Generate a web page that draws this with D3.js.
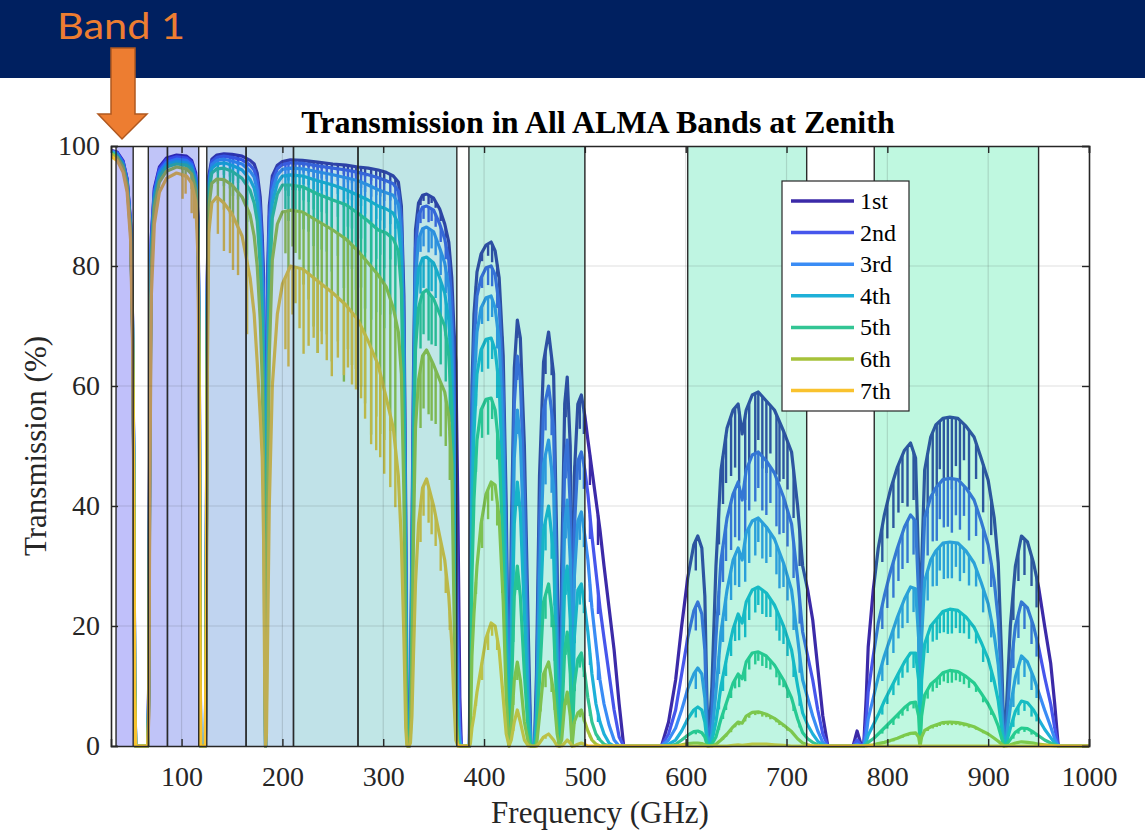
<!DOCTYPE html>
<html><head><meta charset="utf-8">
<script src="https://cdn.jsdelivr.net/npm/d3@7/dist/d3.min.js"></script>
<style>body{margin:0;background:#fff}svg{display:block}</style>
</head><body>
<svg id="chart" width="1145" height="830"></svg>
<script>
// ---------------- DATA ----------------
const freqGHz = [
  30, 36, 42, 46, 49.5, 51.3, 52.5, 53.5, 54.5,
  66.5, 67.5, 68.5, 70, 73, 78, 85, 95, 105, 110, 114, 116.3, 117.6, 118.4, 118.9,
  123.6, 124.5, 125.5, 127, 130, 135, 142, 150, 160, 168, 172, 175, 178, 180, 181.4, 182.5, 183.3,
  184.2, 185.5, 187, 190, 195, 200, 208, 220, 235, 250, 263, 275, 285, 295, 303, 310, 315, 318, 320.5, 322.3, 323.5, 324.5,
  325.8, 327, 328.5, 330, 332, 335, 339, 343, 350, 356, 361, 365, 368, 370, 372, 374, 376, 377.5,
  385.5, 386.5, 388, 390, 393, 397, 402, 407, 411, 415, 419, 422, 424.8, 427, 430, 433, 436, 440, 444, 446.5,
  450, 452, 455, 459, 464, 469, 472.5, 474.7, 477, 480, 482.5, 485.5, 487.3, 489.5, 493, 496.5, 500, 503, 507, 511, 515, 519, 524, 529, 534, 538.5,
  576, 583, 590, 596, 602, 608, 612, 616, 619, 621, 622.5,
  626, 630, 635, 641, 647, 652, 656, 660, 666, 672, 680, 688, 697, 705, 711, 716, 721, 726, 731, 736, 741,
  766, 770, 773.5, 776.5,
  779, 781, 786, 791, 797, 803, 810, 817, 823, 828, 831, 832.5, 834, 837, 843, 848, 855, 862, 870, 878, 886, 893, 900, 906, 910, 913.5, 915.7,
  918, 922, 927, 933, 939, 945, 950, 956, 962, 966, 969.5, 1000
];
const trans1st = [
  99.3, 99.0, 97.5, 94.5, 87, 72, 50, 12, 0,
  0, 12, 58, 85, 93, 96.5, 98, 98.5, 98.3, 97.6, 95.5, 88, 65, 20, 0,
  0, 30, 78, 95, 97.8, 98.5, 98.7, 98.6, 98.3, 97.6, 97, 95.5, 91.5, 85, 78, 45, 0,
  45, 80, 90, 95, 96.8, 97.4, 97.7, 97.6, 97.3, 97, 96.8, 96.5, 96.3, 96, 95.6, 95, 94, 90, 75, 40, 8, 0,
  0, 10, 35, 62, 86, 90.5, 91.8, 92, 91.3, 89.5, 87, 84, 78, 70, 64, 40, 8, 0,
  0, 35, 60, 72, 79, 82, 83.5, 84, 82.5, 78, 65, 40, 2, 35, 63, 71, 68, 50, 18, 0,
  0, 12, 45, 64, 69, 62, 30, 1, 30, 57, 61.5, 50, 8, 45, 57, 58.5, 55, 51, 46, 41, 36, 30, 23, 16, 7, 0,
  0, 4, 11, 20, 28, 33.5, 35, 33, 25, 8, 0,
  10, 30, 46, 53, 56, 57, 52, 56, 58.5, 59, 57.5, 56, 52.5, 49, 40, 30, 26, 21, 13, 5, 0,
  0, 2.5, 0.5, 0,
  8, 16.5, 26, 33, 38.5, 42.7, 46.5, 49.3, 50.5, 48, 30, 3, 30, 46, 51.5, 53.5, 54.6, 54.8, 54.6, 53.3, 51.5, 48, 44.3, 38, 30.5, 14, 0,
  6, 20, 30, 35, 34, 30.5, 26.5, 20, 13.8, 7, 0, 0
];
const trans2nd = [
  99.2, 98.9, 97.4, 94.4, 86.8, 71.6, 49.5, 11.5, 0,
  0, 11, 56.5, 84.3, 92.6, 96.2, 97.7, 98.2, 98, 97.3, 95.1, 87.5, 64, 19, 0,
  0, 29, 77, 94.4, 97.4, 98.1, 98.3, 98.1, 97.7, 96.8, 96, 94.3, 89.5, 82.5, 74, 40, 0,
  38, 76, 88, 94, 96.2, 96.9, 97.2, 97.1, 96.7, 96.3, 96, 95.6, 95.2, 94.7, 94.2, 93.7, 92.5, 88, 71, 35, 6, 0,
  0, 8, 32, 58, 83, 88.5, 89.8, 90, 89.3, 87, 84.5, 81, 74, 62, 45, 18, 3, 0,
  0, 28, 54, 67, 75, 78, 79.7, 80, 78.5, 73.5, 59, 33, 0.5, 28, 57, 65, 61, 42, 12, 0,
  0, 8, 37, 56, 60, 53, 22, 0, 22, 47, 51, 40, 5, 36, 47.5, 49, 46, 42, 35, 29, 23, 18, 12, 6, 1.5, 0,
  0, 2, 6, 12, 18, 22.5, 24, 22, 16, 4, 0,
  5, 18, 31, 38, 42, 44, 41, 46, 48.5, 49, 47.5, 45.5, 41.5, 37, 28, 19, 15, 11, 6, 2, 0,
  0, 1, 0.2, 0,
  4, 9, 15, 20.5, 25, 29, 33, 36.5, 38.5, 37.5, 25, 2, 25, 38, 41.5, 43, 44.4, 44.6, 44.4, 43, 41, 37.5, 33.5, 27.5, 21, 9, 0,
  3, 12.5, 20, 24, 23, 20, 16.5, 11.5, 7, 3, 0, 0
];
const trans3rd = [
  99.1, 98.8, 97.2, 94.2, 86.5, 71.2, 49, 11, 0,
  0, 10, 55, 83.5, 92.1, 95.8, 97.3, 97.8, 97.6, 96.9, 94.7, 87, 63, 18, 0,
  0, 28, 75.5, 93.8, 96.9, 97.6, 97.8, 97.5, 97.0, 95.8, 94.8, 92.7, 87, 79.5, 69, 35, 0,
  30, 70, 85, 92.5, 95.2, 96.1, 96.3, 96.2, 95.7, 95.2, 94.7, 94.2, 93.5, 92.7, 92.2, 91.8, 90.3, 85, 66, 29, 4, 0,
  0, 6, 28, 54, 78, 84.5, 86.2, 86.5, 85.7, 83, 80.5, 76.5, 68.5, 52, 30, 8, 1, 0,
  0, 20, 46, 60, 69, 73, 74.7, 75, 73, 67.5, 51.5, 26, 0, 21, 48, 56, 51, 32, 7, 0,
  0, 5, 28, 47, 51, 43, 15, 0, 15, 37, 41, 31, 3, 28, 37.5, 39, 35, 31, 23, 17, 11, 7, 3.5, 1, 0, 0,
  0, 1, 3, 6, 9.5, 12, 13, 12, 8, 2, 0,
  2, 9, 19, 26, 31, 33, 31, 35.5, 37.5, 38, 36.5, 34.5, 30.5, 26, 18, 11, 8, 5, 2.5, 0.6, 0,
  0, 0.3, 0, 0,
  1.8, 4.5, 8, 11.5, 15, 18, 21.5, 24.5, 26.5, 26.2, 18, 1, 18, 27.5, 31, 32.5, 33.8, 34, 33.8, 32.5, 30.5, 27.3, 23.7, 18.5, 13.5, 5.5, 0,
  1.3, 6.5, 11.5, 15, 14, 11.5, 9, 6, 3.2, 1.2, 0, 0
];
const trans4th = [
  99.0, 98.6, 97.0, 94.0, 86.2, 70.8, 48.5, 10.5, 0,
  0, 9, 53.5, 82.7, 91.6, 95.4, 96.9, 97.4, 97.2, 96.5, 94.2, 86.3, 62, 17, 0,
  0, 27, 74, 93, 96.3, 97, 97.2, 96.8, 96.0, 94.4, 93, 90.5, 84, 75, 63, 28, 0,
  22, 63, 81, 90.5, 93.8, 95, 95.2, 95, 94.2, 93.5, 92.7, 91.8, 91, 90, 89.5, 88.8, 87, 81, 60, 23, 2, 0,
  0, 4, 24, 50, 73, 79.5, 81.3, 81.5, 80.5, 78, 75.5, 71, 62, 42, 18, 3, 0, 0,
  0, 14, 38, 52, 62, 66, 67.8, 68, 66, 60, 43, 19, 0, 14, 37, 44, 39, 22, 4, 0,
  0, 3, 19, 36, 40, 32, 9, 0, 9, 27, 30, 21, 1, 18, 26, 27, 23, 19, 12, 7, 4, 2, 0.5, 0, 0, 0,
  0, 0.3, 1, 2.5, 4.5, 6, 6.5, 6, 4, 1, 0,
  0.8, 4, 10, 15, 19.5, 22, 20.5, 24, 26, 26.5, 25.5, 23.5, 20, 16, 10, 5.5, 3.5, 2, 0.8, 0.2, 0,
  0, 0, 0, 0,
  0.7, 1.8, 3.5, 5.2, 7.5, 9.5, 11.8, 14, 15.5, 15.5, 11, 0.5, 11, 17, 20, 21, 22.4, 22.8, 22.6, 21.5, 19.8, 17.3, 14.5, 10.8, 7.5, 2.8, 0,
  0.5, 3, 5.8, 7.5, 7.2, 6, 4.5, 2.8, 1.4, 0.5, 0, 0
];
const trans5th = [
  98.9, 98.4, 96.8, 93.7, 85.9, 70.4, 48, 10, 0,
  0, 8, 52, 81.8, 91, 94.9, 96.5, 97, 96.8, 96, 93.6, 85.5, 60.5, 16, 0,
  0, 25.5, 72, 92, 95.5, 96.2, 96.3, 95.8, 94.6, 92.6, 90.5, 87.5, 80, 70, 57, 22, 0,
  15, 55, 76, 88, 92, 93.5, 93.5, 93.2, 92, 91, 90.2, 88.8, 87.5, 86, 85.5, 84.5, 82.5, 76, 53, 17, 1, 0,
  0, 3, 20, 45, 66, 73, 75.5, 76, 74.5, 72, 70, 65, 56, 33, 11, 1, 0, 0,
  0, 8, 28, 41, 51, 56, 57.8, 58, 56, 49.5, 32, 12, 0, 8, 25, 30, 25, 12, 2, 0,
  0, 1, 11, 24, 27, 20, 5, 0, 4, 16, 19, 12, 0, 10, 14.5, 15.5, 12, 8, 4, 2, 1, 0.3, 0, 0, 0, 0,
  0, 0, 0.3, 1, 1.8, 2.4, 2.5, 2.2, 1.5, 0.3, 0,
  0.3, 1.5, 4.5, 7.5, 10.5, 12, 11.2, 14, 15.5, 15.7, 15, 13.5, 11, 8, 4.5, 2.2, 1.2, 0.6, 0.2, 0, 0,
  0, 0, 0, 0,
  0.2, 0.6, 1.2, 2, 3, 4, 5.2, 6.4, 7.2, 7.3, 5, 0.2, 5, 8.5, 10.3, 11, 12.2, 12.6, 12.4, 11.6, 10.5, 8.8, 7, 5, 3.3, 1.2, 0,
  0.2, 1.1, 2.3, 3, 2.9, 2.3, 1.7, 1, 0.5, 0.2, 0, 0
];
const trans6th = [
  98.7, 98.1, 96.4, 93.3, 85.4, 69.7, 47, 9.5, 0,
  0, 7, 49, 80, 89.8, 94, 95.8, 96.5, 96.2, 95.3, 92.7, 84.3, 58.5, 14, 0,
  0, 23.5, 68.5, 89.8, 93.8, 94.5, 94.4, 93.5, 91.5, 88.5, 85, 80, 71, 61, 46, 15, 0,
  8, 42, 65, 81, 87, 89, 89.3, 89, 87.5, 86, 84.5, 82.5, 80.5, 78.5, 76.5, 73, 69, 62, 42, 10, 0.5, 0,
  0, 2, 14, 35, 53, 61, 65, 66, 63.5, 61, 59, 55, 47, 25, 5, 0, 0, 0,
  0, 3, 15, 22, 30, 37, 42, 44, 43.5, 38, 24, 8, 0, 3, 11, 14, 11, 4, 0.5, 0,
  0, 0, 5, 12, 14, 9, 2, 0, 1, 7, 9, 5, 0, 4, 5.5, 6, 4, 2.5, 1, 0.3, 0, 0, 0, 0, 0, 0,
  0, 0, 0, 0.2, 0.4, 0.5, 0.5, 0.4, 0.2, 0, 0,
  0, 0.3, 1, 2, 3.2, 4, 3.8, 5, 5.6, 5.7, 5.3, 4.6, 3.5, 2.4, 1.2, 0.5, 0.2, 0, 0, 0, 0,
  0, 0, 0, 0,
  0, 0.1, 0.2, 0.4, 0.6, 0.9, 1.3, 1.8, 2.1, 2.2, 1.5, 0, 1.5, 2.6, 3.2, 3.5, 3.9, 4, 3.9, 3.6, 3.2, 2.6, 2, 1.3, 0.8, 0.3, 0,
  0, 0.2, 0.5, 0.7, 0.6, 0.5, 0.3, 0.2, 0.1, 0, 0, 0
];
const trans7th = [
  98.3, 97.6, 95.6, 92.3, 84.2, 68, 45, 8.5, 0,
  0, 5, 43, 75, 87, 92.3, 94.6, 95.5, 95, 93.8, 90.8, 81.5, 54, 11, 0,
  0, 19, 61, 85.5, 90.5, 91.5, 90.5, 88.7, 85, 78, 72, 64, 55, 48, 34, 9, 0,
  2, 20, 40, 60, 72, 77, 80, 79.5, 77.5, 75.5, 73.5, 71, 67.5, 63.5, 58, 53, 45, 34, 18, 3, 0, 0,
  0, 0.5, 5, 15, 27, 37, 43, 44.5, 40, 35, 31, 25, 17, 8, 1, 0, 0, 0,
  0, 0.5, 3, 5, 9, 13, 18, 20.5, 20, 16, 8, 2, 0, 1, 4, 6, 4, 1, 0, 0,
  0, 0, 0.5, 1.5, 2, 1, 0, 0, 0, 0.5, 1, 0.5, 0, 0, 0.3, 0.5, 0.2, 0, 0, 0, 0, 0, 0, 0, 0, 0,
  0, 0, 0, 0, 0, 0, 0, 0, 0, 0, 0,
  0, 0, 0, 0, 0.1, 0.2, 0.1, 0.2, 0.3, 0.3, 0.3, 0.2, 0.1, 0, 0, 0, 0, 0, 0, 0, 0,
  0, 0, 0, 0,
  0, 0, 0, 0, 0, 0, 0, 0, 0, 0, 0, 0, 0, 0, 0, 0, 0, 0, 0, 0, 0, 0, 0, 0, 0, 0, 0,
  0, 0, 0, 0, 0, 0, 0, 0, 0, 0, 0, 0
];

// narrow absorption lines (spikes): frequency and depth below each curve
const spikeGHz = [101, 104, 110, 112.5, 136, 142, 148, 151, 156, 165,
  203, 206, 213, 221, 231, 235, 239, 249, 261, 265, 273, 282, 288, 293, 301, 307,
  337, 345, 352, 362, 398, 404, 413, 433, 461, 467, 481, 495,
  610, 637, 645, 663, 676, 684, 693, 701, 795, 806, 815, 845, 852, 860, 868, 876, 888, 930, 943,
  633, 640, 649, 653, 659, 669, 672, 680, 690, 697, 707, 713,
  800, 811, 820, 826, 840, 849, 856, 864, 872, 881, 895, 903, 925, 936, 948,
  210, 217, 226, 244, 255, 269, 278, 297, 312,
  340, 348, 357, 366,
  392, 408, 418, 429, 456, 470, 478, 490, 499, 505, 513];
const spike1st = [0,0,0.3,0.3,0.3,0.5,0.5,0.5,0.5,1, 0.5,0.8,0.5,1,1,1.5,1,1.5,1.5,1,1.5,1.5,2,1.5,2,1.5, 1,1.5,1,1.5,1.5,2,2,3,4,3,4,5, 5,8,10,10,12,8,10,8,6,8,8,10,8,10,8,6,6,5,5,
  6,8,10,12,14,10,8,12,10,8,8,6,
  6,8,10,8,10,12,10,12,10,10,8,6,5,6,5,
  0.5,0.5,1,1,1,1,1.5,1.5,1.5,
  1,1,1.5,2,
  2,3,3,3,4,3,3,4,4,5,5];
const spike2nd = [0,0,0.5,0.5,0.5,0.8,0.8,1,1,1.5, 1,1.2,1,1.5,2,2.5,2,2.5,3,2,3,3,3.5,3,3.5,3, 2,2.5,2,2.5,2,3,3,4,5,4,4,4, 4,6,8,8,9,6,8,6,4,6,6,8,6,8,6,5,5,4,4,
  4,6,8,9,10,8,6,9,8,6,6,4,
  4,6,7,6,8,9,8,9,8,8,6,4,4,4,3,
  1,1,1.5,2,2,2,2.5,3,3,
  2,2,2.5,3,
  2,3,3,3,4,3,3,3,4,4,4];
const spike3rd = [0.3,0.3,0.8,0.8,1,1.2,1.2,1.5,1.5,2.5, 1.5,2,1.5,2.5,3,4,3,4,5,3.5,5,5,6,5,6,5, 3,4,3,4,3,4,4,4,5,4,4,4, 3,4,5,6,6,4,6,4,3,4,4,5,4,6,4,4,3,3,3,
  3,4,5,6,7,6,4,6,5,4,4,3,
  3,4,5,4,5,6,6,6,6,5,4,3,3,3,2,
  1.5,1.5,2.5,3,3,3.5,4,5,5,
  3,3,4,4,
  2,3,3,3,4,3,3,3,3,3,3];
const spike4th = [0.5,0.5,1,1,1.5,2,2,2.5,2.5,4, 2.5,3.5,2.5,4,5,7,5,7,8,6,8,9,10,9,10,8, 5,6,5,6,4,5,5,4,5,4,3,3, 1.5,2.5,3,4,4,3,4,3,1.5,2,2,3,3,4,3,3,2,1.5,1.5,
  1.5,2.5,3,4,5,4,3,4,3.5,3,2.5,1.5,
  1.5,2,2.5,2.5,3,3.5,3.5,4,3.5,3,2.5,2,1.5,1.5,1,
  2.5,2.5,4,5,5,6,7,8,8,
  5,5,6,6,
  2,3,3,3,3,2,2,2,2,2,1.5];
const spike5th = [0.8,0.8,1.5,1.5,2.5,3,3,4,4,6, 4,6,4,7,9,12,9,12,14,10,13,15,16,14,16,13, 8,8,7,8,5,6,5,4,4,3,2,2, 0.5,1,1.5,2,2,1.5,2,1.5,0.6,1,1,1.5,1.5,2,1.5,1.5,1,0.6,0.6,
  0.6,1,1.5,2,2.5,2,1.5,2,1.5,1.2,1,0.5,
  0.6,0.8,1,1,1.5,1.5,1.5,2,1.5,1.5,1,0.8,0.6,0.6,0.4,
  4,4,7,9,9,10,12,14,14,
  7,8,8,8,
  2,3,2,2,2,1.5,1.5,1.5,1.5,1,0.5];
const spike6th = [1.5,1.5,2.5,2.5,4,5,5,6,6,9, 7,10,7,12,18,22,18,22,24,18,20,24,28,24,26,22, 10,10,9,8,5,5,4,3,3,2,1,1, 0,0.3,0.5,0.6,0.6,0.5,0.5,0.4,0.1,0.3,0.3,0.4,0.4,0.5,0.4,0.4,0.3,0.1,0.1,
  0.1,0.3,0.4,0.5,0.6,0.5,0.4,0.5,0.4,0.3,0.2,0.1,
  0.1,0.2,0.3,0.3,0.4,0.4,0.4,0.5,0.4,0.4,0.3,0.2,0.1,0.1,0.1,
  6,8,14,18,18,20,22,26,22,
  9,10,9,8,
  2,3,2,1.5,1,1,0.5,0.5,0.5,0.3,0];
const spike7th = [4,3,5,4,6,8,7,9,8,12, 12,16,6,14,10,12,10,14,12,10,12,14,16,15,14,12, 6,6,5,4,3,3,2,1,0.5,0,0,0, 0,0,0,0,0,0,0,0,0,0,0,0,0,0,0,0,0,0,0,
  0,0,0,0,0,0,0,0,0,0,0,0,
  0,0,0,0,0,0,0,0,0,0,0,0,0,0,0,
  8,10,12,12,10,12,12,14,10,
  5,6,5,3,
  1,2,1,0.5,0,0,0,0,0,0,0];

const seriesNames = ["1st", "2nd", "3rd", "4th", "5th", "6th", "7th"];
const seriesColors = ["#3b2aa8", "#4656ec", "#3a8cf5", "#1eb0d8", "#33c594", "#a6c23a", "#f9c22e"];
const seriesValues = [trans1st, trans2nd, trans3rd, trans4th, trans5th, trans6th, trans7th];
const seriesSpikes = [spike1st, spike2nd, spike3rd, spike4th, spike5th, spike6th, spike7th];

// ALMA receiver bands (GHz)
const bandStart = [35, 67, 86, 125, 164, 211, 275, 385, 602, 787];
const bandEnd   = [52, 86, 117, 164, 211, 275, 373, 500, 720, 950];
const bandColors = ["#0303eb", "#0313e3", "#0323db", "#0353c3", "#1373bb", "#038ba3", "#039b9b", "#03c393", "#00d78b", "#00e383"];

const xTicks = [100, 200, 300, 400, 500, 600, 700, 800, 900, 1000];
const yTicks = [0, 20, 40, 60, 80, 100];

// ---------------- CHECKS ----------------
seriesValues.forEach((v, i) => { if (v.length !== freqGHz.length) throw new Error("length mismatch series " + i + ": " + v.length + " vs " + freqGHz.length); });
seriesSpikes.forEach((v, i) => { if (v.length !== spikeGHz.length) throw new Error("spike length mismatch " + i + ": " + v.length + " vs " + spikeGHz.length); });

// ---------------- DRAW ----------------
const W = 1145, H = 830;
const svg = d3.select("#chart");
const P = {l: 111, r: 1089, t: 146, b: 746};
const x = d3.scaleLinear().domain([30, 1000]).range([P.l, P.r]);
const y = d3.scaleLinear().domain([0, 100]).range([P.b, P.t]);
const serif = "'Liberation Serif','Times New Roman',serif";

svg.append("rect").attr("width", W).attr("height", H).attr("fill", "#ffffff");

// header bar
svg.append("rect").attr("x", 0).attr("y", 0).attr("width", W).attr("height", 78).attr("fill", "#002060");
svg.append("text").attr("x", 57).attr("y", 39).attr("fill", "#ed7d31")
  .attr("textLength", 128).attr("lengthAdjust", "spacingAndGlyphs")
  .style("font-family", "Lato, 'Open Sans', sans-serif").style("font-size", "37px").text("Band 1");
svg.append("path")
  .attr("d", "M111,48 L135,48 L135,114 L147,114 L122,139 L98,114 L111,114 Z")
  .attr("fill", "#ed7d31").attr("stroke", "#b0581f").attr("stroke-width", 1.5);

// title
svg.append("text").attr("x", 598).attr("y", 133).attr("text-anchor", "middle")
  .style("font-family", serif).style("font-size", "32px").style("font-weight", "bold").attr("fill", "#000")
  .text("Transmission in All ALMA Bands at Zenith");

// clip
svg.append("defs").append("clipPath").attr("id", "plotclip")
  .append("rect").attr("x", P.l).attr("y", P.t).attr("width", P.r - P.l).attr("height", P.b - P.t + 2);

const plot = svg.append("g").attr("clip-path", "url(#plotclip)");
const line = d3.line().x(d => x(d[0])).y(d => y(d[1]));

function valueAt(vals, f) {
  const i = d3.bisectLeft(freqGHz, f);
  if (i <= 0) return vals[0];
  if (i >= freqGHz.length) return vals[vals.length - 1];
  const f0 = freqGHz[i - 1], f1 = freqGHz[i];
  const t = (f - f0) / (f1 - f0);
  return vals[i - 1] + t * (vals[i] - vals[i - 1]);
}

seriesValues.forEach((vals, s) => {
  const pts = freqGHz.map((f, i) => [f, vals[i]]);
  plot.append("path").datum(pts).attr("d", line)
    .attr("fill", "none").attr("stroke", seriesColors[s]).attr("stroke-width", 3.2)
    .attr("stroke-linejoin", "round");
  const sp = seriesSpikes[s];
  spikeGHz.forEach((f, j) => {
    if (sp[j] <= 0.2) return;
    const top = valueAt(vals, f);
    const bottom = Math.max(0, top - sp[j]);
    plot.append("line").attr("x1", x(f)).attr("x2", x(f)).attr("y1", y(top)).attr("y2", y(bottom))
      .attr("stroke", seriesColors[s]).attr("stroke-width", 2.4);
  });
});

// band shading (translucent, above curves)
const bands = svg.append("g");
bandStart.forEach((b0, i) => {
  bands.append("rect").attr("x", x(b0)).attr("y", P.t)
    .attr("width", x(bandEnd[i]) - x(b0)).attr("height", P.b - P.t)
    .attr("fill", bandColors[i]).attr("fill-opacity", 0.25);
  [b0, bandEnd[i]].forEach(e => {
    bands.append("line").attr("x1", x(e)).attr("x2", x(e)).attr("y1", P.t).attr("y2", P.b)
      .attr("stroke", "#2a2a2a").attr("stroke-width", 1.4);
  });
});

// grid
const grid = svg.append("g").attr("stroke", "#262626").attr("stroke-opacity", 0.15).attr("stroke-width", 1.2);
xTicks.filter(t => t < 1000).forEach(t => grid.append("line").attr("x1", x(t)).attr("x2", x(t)).attr("y1", P.t).attr("y2", P.b));
yTicks.filter(t => t > 0 && t < 100).forEach(t => grid.append("line").attr("x1", P.l).attr("x2", P.r).attr("y1", y(t)).attr("y2", y(t)));

// axes
const fmt = d3.format("d");
const axB = svg.append("g").attr("transform", `translate(0,${P.b})`)
  .call(d3.axisBottom(x).tickValues(xTicks).tickSize(-7).tickPadding(20).tickFormat(fmt));
const axT = svg.append("g").attr("transform", `translate(0,${P.t})`)
  .call(d3.axisTop(x).tickValues(xTicks).tickSize(-7).tickFormat(""));
const axL = svg.append("g").attr("transform", `translate(${P.l},0)`)
  .call(d3.axisLeft(y).tickValues(yTicks).tickSize(-7).tickPadding(11).tickFormat(fmt));
const axR = svg.append("g").attr("transform", `translate(${P.r},0)`)
  .call(d3.axisRight(y).tickValues(yTicks).tickSize(-7).tickFormat(""));
[axB, axT, axL, axR].forEach(a => {
  a.select(".domain").attr("stroke", "#262626").attr("stroke-width", 1.6);
  a.selectAll(".tick line").attr("stroke", "#262626").attr("stroke-width", 1.4);
  a.selectAll("text").style("font-family", serif).style("font-size", "28px").attr("fill", "#262626");
});

// axis labels
svg.append("text").attr("x", 600).attr("y", 823).attr("text-anchor", "middle")
  .style("font-family", serif).style("font-size", "31px").attr("fill", "#262626").text("Frequency (GHz)");
svg.append("text").attr("transform", "translate(46,446) rotate(-90)").attr("text-anchor", "middle")
  .style("font-family", serif).style("font-size", "31px").attr("fill", "#262626").text("Transmission (%)");

// legend
const lg = svg.append("g");
lg.append("rect").attr("x", 782).attr("y", 181).attr("width", 127).attr("height", 230)
  .attr("fill", "#ffffff").attr("stroke", "#262626").attr("stroke-width", 1.2);
seriesNames.forEach((n, i) => {
  const ry = 201 + i * 31.6;
  lg.append("line").attr("x1", 791).attr("x2", 854).attr("y1", ry).attr("y2", ry)
    .attr("stroke", seriesColors[i]).attr("stroke-width", 3.5);
  lg.append("text").attr("x", 860).attr("y", ry + 8)
    .style("font-family", serif).style("font-size", "24px").attr("fill", "#000").text(n);
});
</script>
</body></html>
